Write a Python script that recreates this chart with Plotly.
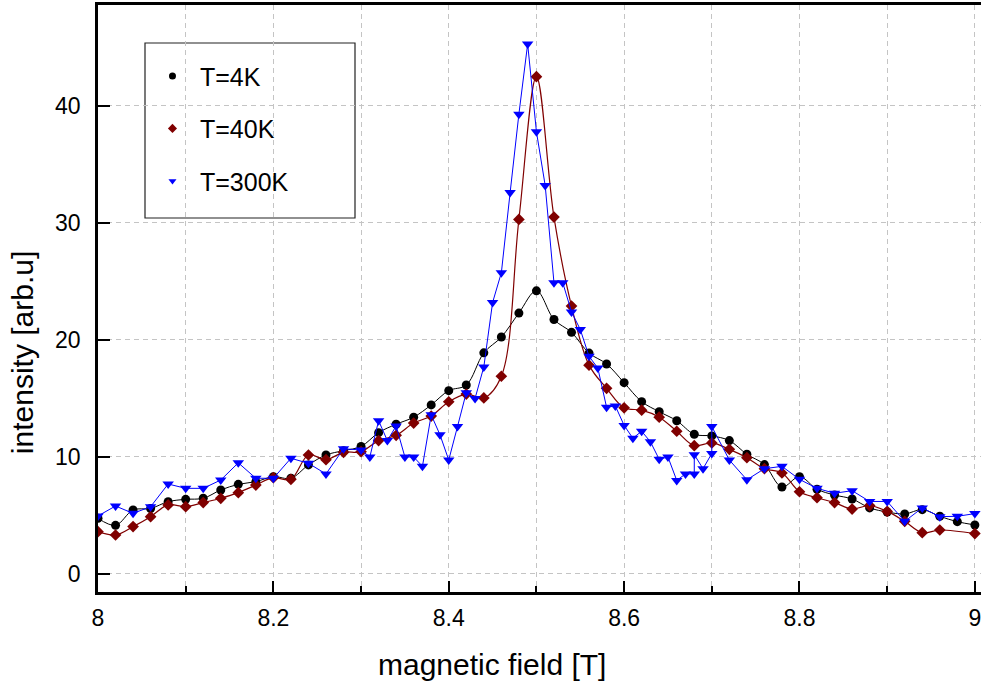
import plotly.graph_objects as go

# field values [T]
x_4k = [8.00, 8.02, 8.04, 8.06, 8.08, 8.10, 8.12, 8.14, 8.16, 8.18,
        8.20, 8.22, 8.24, 8.26, 8.28, 8.30, 8.32, 8.34, 8.36, 8.38,
        8.40, 8.42, 8.44, 8.46, 8.48, 8.50, 8.52, 8.54, 8.56, 8.58,
        8.60, 8.62, 8.64, 8.66, 8.68, 8.70, 8.72, 8.74, 8.76, 8.78,
        8.80, 8.82, 8.84, 8.86, 8.88, 8.90, 8.92, 8.94, 8.96, 8.98, 9.00]
y_4k = [4.76, 4.16, 5.47, 5.60, 6.18, 6.38, 6.47, 7.18, 7.66, 7.89,
        8.32, 8.18, 9.32, 10.17, 10.54, 10.90, 12.08, 12.80, 13.40, 14.45,
        15.67, 16.15, 18.90, 20.25, 22.30, 24.20, 21.75, 20.65, 18.88, 17.95,
        16.35, 14.73, 13.87, 13.10, 11.94, 11.80, 11.40, 10.23, 9.35, 7.43,
        8.32, 7.24, 6.75, 6.41, 5.65, 5.30, 5.13, 5.50, 4.93, 4.47, 4.19]

x_40k = [8.00, 8.02, 8.04, 8.06, 8.08, 8.10, 8.12, 8.14, 8.16, 8.18,
         8.20, 8.22, 8.24, 8.26, 8.28, 8.30, 8.32, 8.34, 8.36, 8.38,
         8.40, 8.42, 8.44, 8.46, 8.48, 8.50, 8.52, 8.54, 8.56, 8.58,
         8.60, 8.62, 8.64, 8.66, 8.68, 8.70, 8.72, 8.74, 8.76, 8.78,
         8.80, 8.82, 8.84, 8.86, 8.88, 8.90, 8.92, 8.94, 8.96, 9.00]
y_40k = [3.62, 3.33, 4.05, 4.90, 5.90, 5.75, 6.10, 6.47, 6.95, 7.60,
         8.23, 8.09, 10.17, 9.77, 10.40, 10.45, 11.40, 11.85, 12.90, 13.50,
         14.72, 15.38, 15.05, 16.90, 30.30, 42.50, 30.50, 22.90, 17.85, 15.87,
         14.20, 14.00, 13.40, 12.20, 10.97, 11.20, 10.65, 9.94, 9.00, 8.63,
         7.03, 6.52, 6.10, 5.55, 5.85, 5.35, 4.50, 3.53, 3.76, 3.45]

x_300k = [8.00, 8.02, 8.04, 8.06, 8.08, 8.10, 8.12, 8.14, 8.16, 8.18,
          8.20, 8.22, 8.24, 8.26, 8.28, 8.30, 8.31, 8.32, 8.33, 8.34,
          8.35, 8.36, 8.37, 8.38, 8.39, 8.40, 8.41, 8.42, 8.43, 8.44,
          8.45, 8.46, 8.47, 8.48, 8.49, 8.50, 8.51, 8.52, 8.53, 8.54,
          8.55, 8.56, 8.57, 8.58, 8.59, 8.60, 8.61, 8.62, 8.63, 8.64,
          8.65, 8.66, 8.67, 8.68, 8.68, 8.69, 8.70, 8.70, 8.72, 8.74,
          8.76, 8.78, 8.80, 8.82, 8.84, 8.86, 8.88, 8.90, 8.92, 8.94,
          8.96, 8.98, 9.00]
y_300k = [4.96, 5.81, 5.18, 5.75, 7.69, 7.32, 7.32, 8.03, 9.50, 8.18,
          8.18, 9.89, 9.46, 8.55, 10.70, 10.60, 10.00, 13.10, 11.40, 12.65,
          10.00, 10.00, 9.20, 13.60, 11.90, 9.74, 12.60, 15.50, 15.00, 17.70,
          23.20, 25.75, 32.60, 39.30, 45.30, 37.80, 33.20, 24.90, 24.90, 22.40,
          20.90, 18.60, 17.60, 14.25, 14.36, 12.70, 11.60, 12.20, 11.30, 9.80,
          10.00, 8.00, 8.55, 8.55, 10.20, 9.00, 10.30, 12.60, 9.74, 8.05,
          9.00, 9.20, 8.09, 7.32, 6.90, 7.12, 6.20, 6.20, 4.50, 5.65,
          4.90, 4.93, 5.16]

names = ['T=4K', 'T=40K', 'T=300K']
colors = ['#000000', '#800000', '#0000ff']

FONT = "'Liberation Sans', Arial, sans-serif"

fig = go.Figure()

fig.add_trace(go.Scatter(x=x_4k, y=y_4k, mode='lines+markers', showlegend=False,
                         line=dict(color=colors[0], width=1, shape='spline'),
                         marker=dict(symbol='circle', size=9, color=colors[0])))
fig.add_trace(go.Scatter(x=x_40k, y=y_40k, mode='lines+markers', showlegend=False,
                         line=dict(color=colors[1], width=1.2, shape='spline'),
                         marker=dict(symbol='diamond', size=9, color=colors[1])))
fig.add_trace(go.Scatter(x=x_300k, y=y_300k, mode='lines+markers', showlegend=False,
                         line=dict(color=colors[2], width=1),
                         marker=dict(symbol='triangle-down', size=10, color=colors[2])))

# legend entries: markers only
for nm, col, sym in zip(names, colors, ['circle', 'diamond', 'triangle-down']):
    fig.add_trace(go.Scatter(x=[None], y=[None], mode='markers', name=nm, legendgroup=nm,
                             marker=dict(symbol=sym, size=7, color=col)))

grid_col = '#c4c4c4'
fig.update_xaxes(range=[8, 9.007], dtick=0.2, tick0=8, automargin=False,
                 showline=True, linecolor='black', linewidth=2.5, mirror=True,
                 ticks='inside', ticklen=11, tickwidth=2, tickcolor='black',
                 showgrid=True, gridcolor=grid_col, griddash='5px,4px', gridwidth=1,
                 minor=dict(dtick=0.1, tick0=8, ticks='inside', ticklen=6, tickwidth=1.5,
                            tickcolor='black', showgrid=True, gridcolor=grid_col,
                            griddash='5px,4px'),
                 zeroline=False, ticklabelstandoff=4, ticklabeloverflow='allow',
                 tickfont=dict(size=23, family=FONT, color='black'))
fig.update_yaxes(range=[-1.54, 48.63], tickvals=[0, 10, 20, 30, 40], automargin=False,
                 showline=True, linecolor='black', linewidth=2.5,
                 ticks='inside', ticklen=12, tickwidth=2, tickcolor='black',
                 showgrid=True, gridcolor=grid_col, griddash='5px,4px', gridwidth=1,
                 zeroline=False, ticklabelstandoff=10,
                 tickfont=dict(size=23, family=FONT, color='black'))

# axis titles
fig.add_annotation(text='magnetic field [T]', xref='paper', yref='paper',
                   x=0.446, y=-0.124, xanchor='center', yanchor='middle', showarrow=False,
                   font=dict(size=30, family=FONT, color='black'))
fig.add_annotation(text='intensity [arb.u]', xref='paper', yref='paper',
                   x=-0.086, y=0.407, xanchor='center', yanchor='middle',
                   showarrow=False, textangle=-90,
                   font=dict(size=30, family=FONT, color='black'))

# legend frame
fig.add_shape(type='rect', xref='paper', yref='paper',
              x0=(145 - 98) / 883, x1=(355 - 98) / 883,
              y0=(592 - 218) / 587, y1=(592 - 43) / 587,
              line=dict(color='#222222', width=1.2), fillcolor='white', layer='below')

fig.update_layout(
    width=981, height=689,
    margin=dict(l=98, r=0, t=5, b=97),
    paper_bgcolor='white', plot_bgcolor='rgba(0,0,0,0)',
    font=dict(family=FONT, color='black'),
    legend=dict(x=0.0532, y=0.918, xanchor='left', yanchor='top',
                bgcolor='rgba(0,0,0,0)', borderwidth=0,
                font=dict(size=25, family=FONT, color='black'),
                tracegroupgap=17, itemwidth=45),
)

fig.write_html("out.html", config={'displayModeBar': False},
               post_script="document.body.style.margin='0';document.body.style.overflow='hidden';")
